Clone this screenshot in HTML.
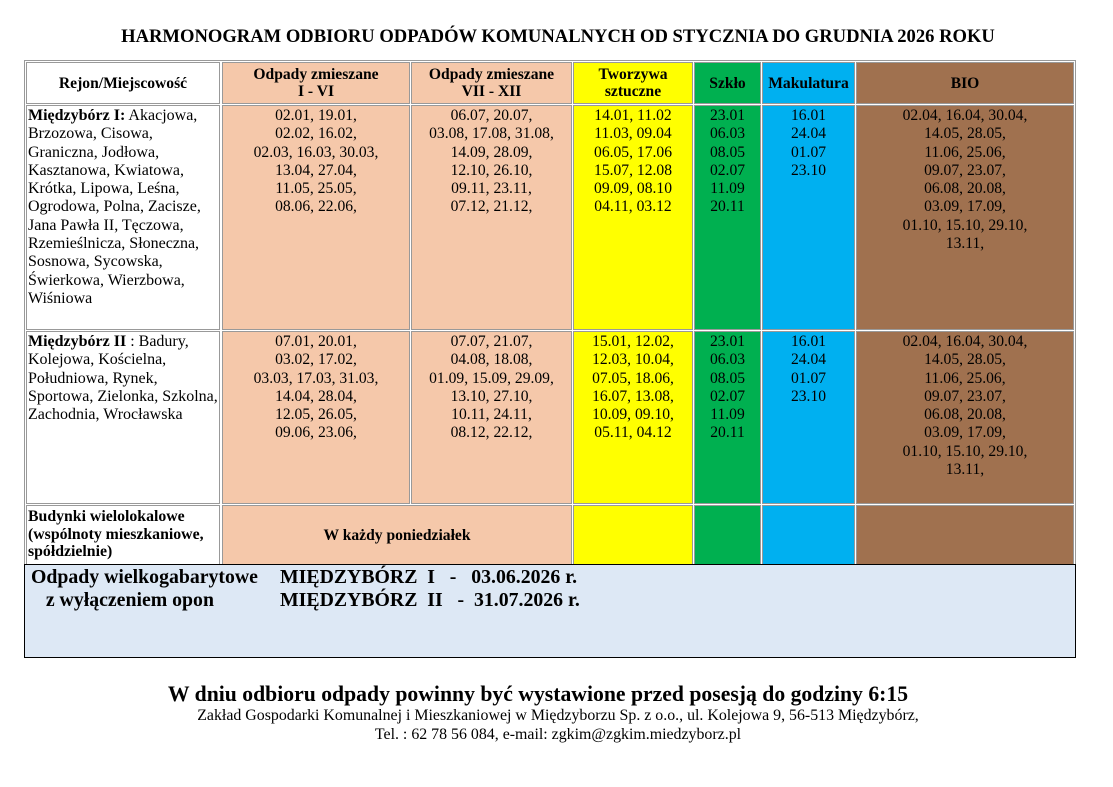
<!DOCTYPE html>
<html><head><meta charset="utf-8"><style>
body{margin:0;width:1113px;height:787px;background:#fff;font-family:"Liberation Serif",serif;color:#000;position:relative;overflow:hidden}
.c{position:absolute;box-sizing:border-box;border:1px solid #999;font-size:15.6px;line-height:18.3px;text-align:center;padding-top:1px;white-space:nowrap;overflow:hidden}
.h{font-weight:bold;font-size:15.6px;line-height:17px;display:flex;align-items:center;justify-content:center;padding:0}
.l{text-align:left;padding-left:1px;font-size:16px}
.p{background:#f5c8aa}.y{background:#ffff00}.g{background:#00b050}.b{background:#00b0f0}.br{background:#a0714f}
.a{position:absolute;white-space:nowrap}
</style></head><body>
<div class="a" style="left:0;width:1116px;top:26px;text-align:center;font-weight:bold;font-size:18.6px">HARMONOGRAM ODBIORU ODPADÓW KOMUNALNYCH OD STYCZNIA DO GRUDNIA 2026 ROKU</div>
<div style="position:absolute;left:24px;top:60px;width:1052px;height:505px;border:1px solid #999;box-sizing:border-box"></div>

<div class="c h" style="left:26px;top:62px;width:194px;height:42px">Rejon/Miejscowość</div>
<div class="c h p" style="left:222px;top:62px;width:188px;height:42px">Odpady zmieszane<br>I - VI</div>
<div class="c h p" style="left:411px;top:62px;width:161px;height:42px">Odpady zmieszane<br>VII - XII</div>
<div class="c h y" style="left:573px;top:62px;width:120px;height:42px">Tworzywa<br>sztuczne</div>
<div class="c h g" style="left:694px;top:62px;width:67px;height:42px">Szkło</div>
<div class="c h b" style="left:762px;top:62px;width:93px;height:42px">Makulatura</div>
<div class="c h br" style="left:856px;top:62px;width:218px;height:42px">BIO</div>

<div class="c l" style="left:26px;top:105px;width:194px;height:225px"><b>Międzybórz I:</b> Akacjowa,<br>Brzozowa, Cisowa,<br>Graniczna, Jodłowa,<br>Kasztanowa, Kwiatowa,<br>Krótka, Lipowa, Leśna,<br>Ogrodowa, Polna, Zacisze,<br>Jana Pawła II, Tęczowa,<br>Rzemieślnicza, Słoneczna,<br>Sosnowa, Sycowska,<br>Świerkowa, Wierzbowa,<br>Wiśniowa</div>
<div class="c p" style="left:222px;top:105px;width:188px;height:225px">02.01, 19.01,<br>02.02, 16.02,<br>02.03, 16.03, 30.03,<br>13.04, 27.04,<br>11.05, 25.05,<br>08.06, 22.06,</div>
<div class="c p" style="left:411px;top:105px;width:161px;height:225px">06.07, 20.07,<br>03.08, 17.08, 31.08,<br>14.09, 28.09,<br>12.10, 26.10,<br>09.11, 23.11,<br>07.12, 21.12,</div>
<div class="c y" style="left:573px;top:105px;width:120px;height:225px">14.01, 11.02<br>11.03, 09.04<br>06.05, 17.06<br>15.07, 12.08<br>09.09, 08.10<br>04.11, 03.12</div>
<div class="c g" style="left:694px;top:105px;width:67px;height:225px">23.01<br>06.03<br>08.05<br>02.07<br>11.09<br>20.11</div>
<div class="c b" style="left:762px;top:105px;width:93px;height:225px">16.01<br>24.04<br>01.07<br>23.10</div>
<div class="c br" style="left:856px;top:105px;width:218px;height:225px">02.04, 16.04, 30.04,<br>14.05, 28.05,<br>11.06, 25.06,<br>09.07, 23.07,<br>06.08, 20.08,<br>03.09, 17.09,<br>01.10, 15.10, 29.10,<br>13.11,</div>

<div class="c l" style="left:26px;top:331px;width:194px;height:173px"><b>Międzybórz II</b> : Badury,<br>Kolejowa, Kościelna,<br>Południowa, Rynek,<br>Sportowa, Zielonka, Szkolna,<br>Zachodnia, Wrocławska</div>
<div class="c p" style="left:222px;top:331px;width:188px;height:173px">07.01, 20.01,<br>03.02, 17.02,<br>03.03, 17.03, 31.03,<br>14.04, 28.04,<br>12.05, 26.05,<br>09.06, 23.06,</div>
<div class="c p" style="left:411px;top:331px;width:161px;height:173px">07.07, 21.07,<br>04.08, 18.08,<br>01.09, 15.09, 29.09,<br>13.10, 27.10,<br>10.11, 24.11,<br>08.12, 22.12,</div>
<div class="c y" style="left:573px;top:331px;width:120px;height:173px">15.01, 12.02,<br>12.03, 10.04,<br>07.05, 18.06,<br>16.07, 13.08,<br>10.09, 09.10,<br>05.11, 04.12</div>
<div class="c g" style="left:694px;top:331px;width:67px;height:173px">23.01<br>06.03<br>08.05<br>02.07<br>11.09<br>20.11</div>
<div class="c b" style="left:762px;top:331px;width:93px;height:173px">16.01<br>24.04<br>01.07<br>23.10</div>
<div class="c br" style="left:856px;top:331px;width:218px;height:173px">02.04, 16.04, 30.04,<br>14.05, 28.05,<br>11.06, 25.06,<br>09.07, 23.07,<br>06.08, 20.08,<br>03.09, 17.09,<br>01.10, 15.10, 29.10,<br>13.11,</div>

<div class="c l" style="left:26px;top:505px;width:194px;height:60px;font-weight:bold;font-size:15.8px;line-height:17.5px;padding-top:2px">Budynki wielolokalowe<br>(wspólnoty mieszkaniowe,<br>spółdzielnie)</div>
<div class="c h p" style="left:222px;top:505px;width:350px;height:60px">W każdy poniedziałek</div>
<div class="c y" style="left:573px;top:505px;width:120px;height:60px"></div>
<div class="c g" style="left:694px;top:505px;width:67px;height:60px"></div>
<div class="c b" style="left:762px;top:505px;width:93px;height:60px"></div>
<div class="c br" style="left:856px;top:505px;width:218px;height:60px"></div>

<div style="position:absolute;left:24px;top:564px;width:1052px;height:94px;box-sizing:border-box;border:1.5px solid #000;background:#dde8f5"></div>
<div class="a" style="left:31px;top:566px;font-weight:bold;font-size:19.8px;line-height:23px">Odpady wielkogabarytowe<br>&nbsp;&nbsp; z wyłączeniem opon</div>
<div class="a" style="left:280px;top:566px;font-weight:bold;font-size:19.8px;line-height:23px;white-space:pre">MIĘDZYBÓRZ  I   -   03.06.2026 r.
MIĘDZYBÓRZ  II   -  31.07.2026 r.</div>

<div class="a" style="left:0;width:1076px;top:682px;text-align:center;font-weight:bold;font-size:21.7px">W dniu odbioru odpady powinny być wystawione przed posesją do godziny 6:15</div>
<div class="a" style="left:0;width:1116px;top:707px;text-align:center;font-size:15.9px;line-height:18.5px">Zakład Gospodarki Komunalnej i Mieszkaniowej w Międzyborzu Sp. z o.o., ul. Kolejowa 9, 56-513 Międzybórz,<br>Tel. : 62 78 56 084, e-mail: zgkim@zgkim.miedzyborz.pl</div>
</body></html>
